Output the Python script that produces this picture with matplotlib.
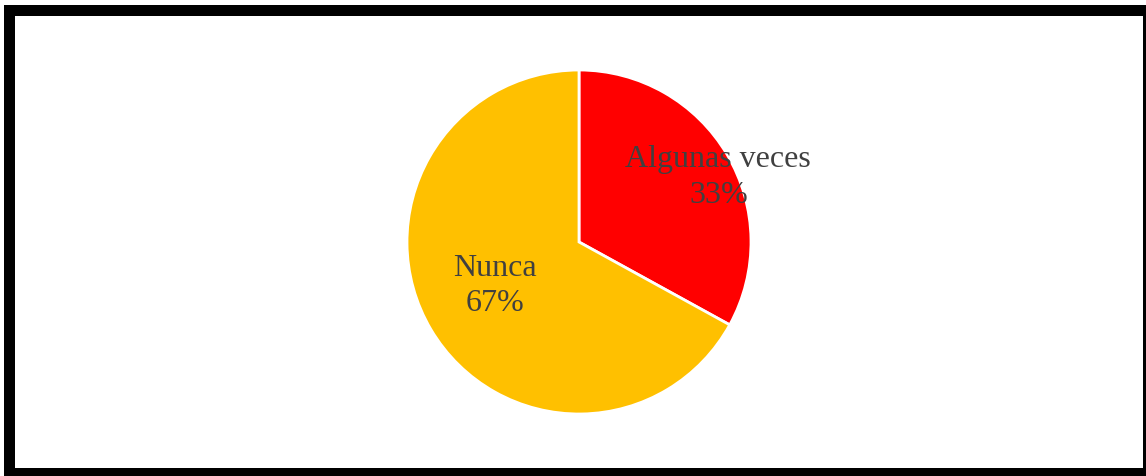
import matplotlib
matplotlib.use("Agg")
import matplotlib.pyplot as plt
from matplotlib.patches import Rectangle

categories = ["Algunas veces", "Nunca"]
values = [33, 67]
colors = ["#FF0000", "#FFC000"]

W, H, DPI = 1146, 476, 100
fig = plt.figure(figsize=(W / DPI, H / DPI), dpi=DPI)
fig.patch.set_facecolor("white")


def px_rect(x0, y0, x1, y1):
    """Filled black bar given in pixel coords measured from the top-left."""
    return Rectangle((x0 / W, (H - y1) / H), (x1 - x0) / W, (y1 - y0) / H,
                     transform=fig.transFigure, facecolor="black",
                     edgecolor="none", clip_on=False)


# thick black frame around the chart area
for bar in [px_rect(4, 5, 15, 476), px_rect(4, 5, 1146, 16),
            px_rect(1143, 5, 1146, 476), px_rect(4, 468, 1146, 476)]:
    fig.patches.append(bar)

# pie axes: center (579, 242) px, radius 172 px
cx, cy, r = 579, 242, 172
ax = fig.add_axes([(cx - r) / W, (H - cy - r) / H, 2 * r / W, 2 * r / H])
ax.pie(values, colors=colors, startangle=90, counterclock=False, radius=1,
       wedgeprops=dict(edgecolor="white", linewidth=2))
ax.set_xlim(-1, 1)
ax.set_ylim(-1, 1)
ax.set_aspect("equal")
ax.axis("off")

label_pos = [(0.81, 0.375), (-0.49, -0.255)]
for name, v, (x, y) in zip(categories, values, label_pos):
    ax.text(x, y, f"{name}\n{v}%", ha="center", va="center", fontsize=23,
            family="Liberation Serif", color="#404040", linespacing=1.3)

fig.savefig("out.png", dpi=DPI)
